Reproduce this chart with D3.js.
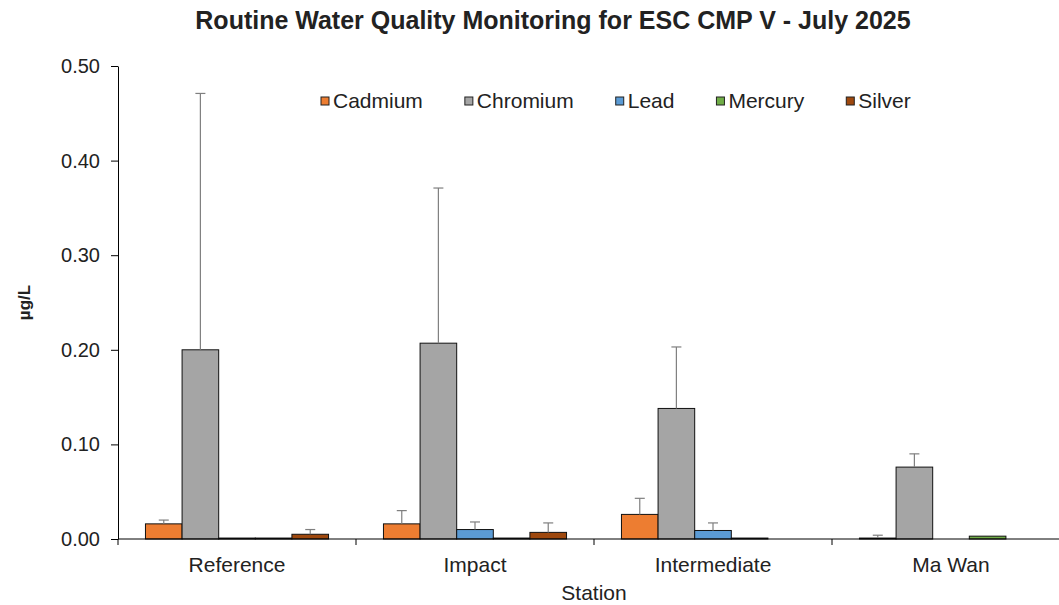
<!DOCTYPE html>
<html>
<head>
<meta charset="utf-8">
<script src="https://cdn.jsdelivr.net/npm/d3@7"></script>
<style>
  body { margin: 0; background: #fff; }
  text { font-family: "Liberation Sans", Arial, sans-serif; fill: #222; }
</style>
</head>
<body>
<div id="chart"></div>
<script>
//Datos
const stations = ['Reference', 'Impact', 'Intermediate', 'Ma Wan'];
const metals = ['Cadmium', 'Chromium', 'Lead', 'Mercury', 'Silver'];

const cadmium = [0.016, 0.016, 0.026, 0.001];
const chromium = [0.200, 0.207, 0.138, 0.076];
const lead = [0.001, 0.010, 0.009, null];
const mercury = [0.001, 0.001, 0.001, 0.003];
const silver = [0.005, 0.007, null, null];

//Desviación (solo barra superior)
const cadmiumSd = [0.004, 0.014, 0.017, 0.003];
const chromiumSd = [0.271, 0.164, 0.065, 0.014];
const leadSd = [0, 0.008, 0.008, 0];
const mercurySd = [0, 0, 0, 0];
const silverSd = [0.005, 0.010, 0, 0];

const yTicks = [0, 0.1, 0.2, 0.3, 0.4, 0.5];

//Colores
const COLORS = ['#ED7D31', '#A5A5A5', '#5B9BD5', '#70AD47', '#9E480E'];

const values = [cadmium, chromium, lead, mercury, silver];
const errors = [cadmiumSd, chromiumSd, leadSd, mercurySd, silverSd];

let data = [];
stations.forEach(function(s, i) {
    metals.forEach(function(m, j) {
        data.push({station: s, metal: m, value: values[j][i], sd: errors[j][i]});
    });
});

let margin = {top: 66, right: -11, bottom: 66, left: 118},
    width = 1059 - margin.left - margin.right,
    height = 605 - margin.top - margin.bottom;

let svg = d3.select('#chart')
    .append('svg')
        .attr('width', 1059)
        .attr('height', 605)
    .append('g')
        .attr('transform', 'translate(' + margin.left + ',' + margin.top + ')');

let x = d3.scaleBand()
    .domain(stations)
    .range([0, width]);

let xSub = d3.scaleBand()
    .domain(metals)
    .range([0, x.bandwidth()])
    .paddingOuter(0.75);

let y = d3.scaleLinear()
    .domain([0, 0.5])
    .range([height, 0]);

let color = d3.scaleOrdinal()
    .domain(metals)
    .range(COLORS);

//Eje Y
let yAxis = svg.append('g')
    .call(d3.axisLeft(y).tickValues(yTicks).tickFormat(d3.format('.2f')).tickSize(7).tickSizeOuter(0));
yAxis.select('.domain').attr('stroke', '#000');
yAxis.selectAll('.tick line').attr('stroke', '#000');
yAxis.selectAll('.tick text')
    .attr('x', -18)
    .style('font-size', '20px')
    .style('font-family', '"Liberation Sans", Arial, sans-serif')
    .attr('fill', '#222');

//Barras
let groups = svg.append('g')
    .selectAll('g')
    .data(stations)
    .enter()
    .append('g')
    .attr('transform', function(d) { return 'translate(' + x(d) + ',0)'; });

groups.selectAll('rect')
    .data(function(s) { return data.filter(function(d) { return d.station === s && d.value; }); })
    .enter()
    .append('rect')
    .attr('x', function(d) { return xSub(d.metal); })
    .attr('y', function(d) { return y(d.value); })
    .attr('width', xSub.bandwidth())
    .attr('height', function(d) { return y(0) - y(d.value); })
    .attr('fill', function(d) { return color(d.metal); })
    .attr('stroke', '#111')
    .attr('stroke-width', 1);

//Barras de error
let errs = groups.selectAll('g.err')
    .data(function(s) { return data.filter(function(d) { return d.station === s && d.value && d.sd > 0; }); })
    .enter()
    .append('g')
    .attr('class', 'err')
    .attr('stroke', '#7F7F7F')
    .attr('stroke-width', 1.2);

errs.append('line')
    .attr('x1', function(d) { return xSub(d.metal) + xSub.bandwidth() / 2; })
    .attr('x2', function(d) { return xSub(d.metal) + xSub.bandwidth() / 2; })
    .attr('y1', function(d) { return y(d.value); })
    .attr('y2', function(d) { return y(d.value + d.sd); });

errs.append('line')
    .attr('x1', function(d) { return xSub(d.metal) + xSub.bandwidth() / 2 - 5; })
    .attr('x2', function(d) { return xSub(d.metal) + xSub.bandwidth() / 2 + 5; })
    .attr('y1', function(d) { return y(d.value + d.sd); })
    .attr('y2', function(d) { return y(d.value + d.sd); });

//Eje X
let xAxisG = svg.append('g')
    .attr('transform', 'translate(0,' + height + ')');
xAxisG.append('line')
    .attr('x1', 0).attr('x2', width)
    .attr('stroke', '#000');
xAxisG.selectAll('line.tk')
    .data(stations)
    .enter()
    .append('line')
    .attr('class', 'tk')
    .attr('x1', function(d) { return x(d); })
    .attr('x2', function(d) { return x(d); })
    .attr('y1', 0).attr('y2', 6)
    .attr('stroke', '#000');
xAxisG.selectAll('text')
    .data(stations)
    .enter()
    .append('text')
    .attr('x', function(d) { return x(d) + x.bandwidth() / 2; })
    .attr('y', 33)
    .attr('text-anchor', 'middle')
    .style('font-size', '21px')
    .text(function(d) { return d; });

//Títulos
svg.append('text')
    .attr('x', width / 2)
    .attr('y', height + 61)
    .attr('text-anchor', 'middle')
    .style('font-size', '21px')
    .text('Station');

svg.append('text')
    .attr('transform', 'translate(-88,' + (height / 2) + ') rotate(-90)')
    .attr('text-anchor', 'middle')
    .style('font-size', '17px')
    .style('font-weight', 'bold')
    .text('µg/L');

d3.select('svg').append('text')
    .attr('x', 553)
    .attr('y', 29)
    .attr('text-anchor', 'middle')
    .style('font-size', '25px')
    .style('font-weight', 'bold')
    .attr('fill', '#000')
    .text('Routine Water Quality Monitoring for ESC CMP V - July 2025');

//Leyenda
let legend = d3.select('svg').append('g')
    .attr('transform', 'translate(321,101)');
let lx = 0;
metals.forEach(function(m) {
    let item = legend.append('g').attr('transform', 'translate(' + lx + ',0)');
    item.append('rect')
        .attr('x', 0).attr('y', -4)
        .attr('width', 8).attr('height', 8)
        .attr('fill', color(m))
        .attr('stroke', '#222');
    let t = item.append('text')
        .attr('x', 12)
        .attr('y', 7)
        .style('font-size', '21px')
        .text(m);
    lx += 12 + t.node().getComputedTextLength() + 42;
});
</script>
</body>
</html>
